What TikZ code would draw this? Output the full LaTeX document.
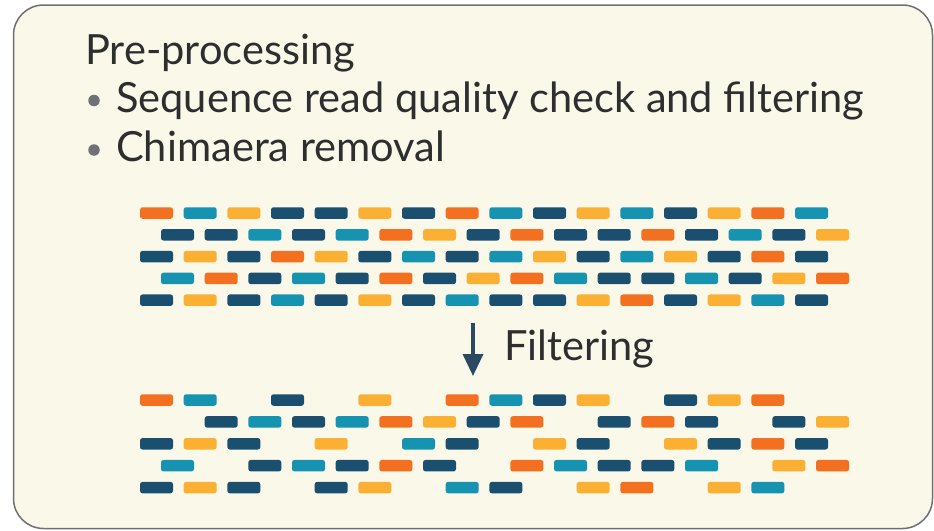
\documentclass[tikz,border=0pt]{standalone}
\usepackage{fontspec}
\setmainfont{Lato}
\usetikzlibrary{arrows.meta}
\definecolor{dO}{HTML}{F37021}
\definecolor{dT}{HTML}{1693B0}
\definecolor{dY}{HTML}{FBB034}
\definecolor{dD}{HTML}{1B4F6F}
\definecolor{bgc}{HTML}{FAF8E9}
\definecolor{framec}{HTML}{707070}
\definecolor{txtc}{HTML}{2E2E2E}
\definecolor{bulc}{HTML}{707075}
\definecolor{arrc}{HTML}{2A4A62}
\newcommand\readrow[3]{%
  \foreach \c [count=\i from 0] in {#3}{%
    \if\c N\else
      \fill[d\c, rounded corners=2.5pt] ({#1+43.67*\i},{#2-5.75}) rectangle ++(33,11.5);
    \fi}}
\begin{document}
\begin{tikzpicture}[x=1pt,y=-1pt,
  label/.style={anchor=base west, inner sep=0pt, text=txtc, font=\fontsize{41.6}{48}\selectfont},
  bulletdot/.style={circle, fill=bulc, minimum size=11.5pt, inner sep=0pt},
  frameline/.style={draw=framec, fill=bgc, line width=1.5pt, rounded corners=30pt}]
\useasboundingbox (0,0) rectangle (934,530);
\fill[white] (0,0) rectangle (934,530);
\draw[frameline] (13.5,5) rectangle (932.5,528.5);
% text
\node[label] (title) at (85,64) {Pre-processing};
\node[bulletdot] (b1) at (94,100.5) {};
\node[label] (item1) at (116,112) {Sequence read quality check and filtering};
\node[bulletdot] (b2) at (94,150) {};
\node[label] (item2) at (116,161) {Chimaera removal};
% reads before filtering
\readrow{140}{213}{O,T,Y,D,D,Y,D,O,T,D,Y,T,D,Y,O,T}
\readrow{161}{234.8}{D,D,T,D,T,O,Y,D,O,D,D,O,D,T,D,Y}
\readrow{140}{256.6}{D,Y,D,O,Y,D,T,D,T,Y,D,T,Y,D,O,D}
\readrow{161}{278.4}{T,O,D,T,D,O,D,Y,O,T,D,D,T,D,Y,O}
\readrow{140}{300.2}{D,Y,D,T,D,Y,D,T,D,D,Y,O,D,Y,T,D}
% arrow
\coordinate (arrtop) at (473,323);
\coordinate (arrtip) at (473,376);
\draw[arrc, line width=3.5pt, -{Triangle[width=20pt,length=22pt]}] (arrtop) -- (arrtip);
\node[label] (filt) at (504,360) {Filtering};
% reads after filtering
\readrow{140}{400}{O,T,N,D,N,Y,N,O,T,D,Y,N,D,Y,O,N}
\readrow{161}{421.9}{N,D,T,D,T,O,Y,D,O,N,D,O,D,N,D,Y}
\readrow{140}{443.8}{D,Y,D,N,Y,N,T,D,N,Y,D,N,Y,D,O,D}
\readrow{161}{465.7}{T,N,D,T,D,O,D,N,O,T,D,D,T,N,Y,O}
\readrow{140}{487.6}{D,Y,D,N,D,Y,N,T,D,N,Y,O,N,Y,T,N}
\end{tikzpicture}
\end{document}
